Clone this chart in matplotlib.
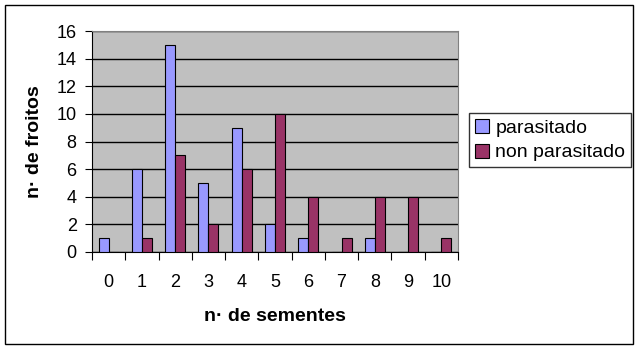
import matplotlib.pyplot as plt
import matplotlib.patches as patches
import numpy as np

# data
sementes = ['0', '1', '2', '3', '4', '5', '6', '7', '8', '9', '10']
parasitado = [1, 6, 15, 5, 9, 2, 1, 0, 1, 0, 0]
non_parasitado = [0, 1, 7, 2, 6, 10, 4, 1, 4, 4, 1]

plt.rcParams['font.family'] = ['Liberation Sans', 'DejaVu Sans']

fig = plt.figure(figsize=(6.4, 3.5), dpi=100)
ax = fig.add_axes([92/640, 1 - 252/350, 366/640, 221/350])

x = np.arange(len(sementes))
w = 0.3
ax.bar(x - w/2, parasitado, w, color='#9999FF', edgecolor='black', linewidth=0.8,
       label='parasitado', zorder=3)
ax.bar(x + w/2, non_parasitado, w, color='#993366', edgecolor='black', linewidth=0.8,
       label='non parasitado', zorder=3)

ax.set_facecolor('#C0C0C0')
ax.set_xlim(-0.5, len(sementes) - 0.5)
ax.set_ylim(0, 16)
ax.set_yticks(range(0, 17, 2))
ax.yaxis.grid(True, color='black', linewidth=1)
ax.set_axisbelow(True)

# category boundary ticks, labels centred between them
ax.set_xticks(np.arange(-0.5, len(sementes)), minor=False)
ax.set_xticklabels([])
ax.set_xticks(x, minor=True)
ax.set_xticklabels(sementes, minor=True)
ax.tick_params(axis='x', which='major', length=6, direction='out', color='black')
ax.tick_params(axis='x', which='minor', length=0, pad=16, labelsize=13)
ax.tick_params(axis='y', length=5, direction='out', labelsize=13, pad=6)

for s in ['top', 'right']:
    ax.spines[s].set_color('#808080')
ax.spines['left'].set_color('black')
ax.spines['bottom'].set_color('black')

ax.set_xlabel('n· de sementes', fontsize=14, fontweight='bold', labelpad=12)
ax.set_ylabel('n· de froitos', fontsize=14, fontweight='bold', labelpad=10)

leg = fig.legend(loc='upper left', bbox_to_anchor=(469/640, 1 - 113/350),
                 fontsize=14, frameon=True, fancybox=False, edgecolor='black',
                 handlelength=0.75, handleheight=0.75, handletextpad=0.3,
                 borderpad=0.3, labelspacing=0.35, borderaxespad=0)
leg.get_frame().set_linewidth(1)

# outer chart border
fig.patches.append(patches.Rectangle((5/640, 6/350), 628/640, 339/350,
                                     transform=fig.transFigure, fill=False,
                                     edgecolor='black', linewidth=1))

fig.savefig('out.png', dpi=100)
